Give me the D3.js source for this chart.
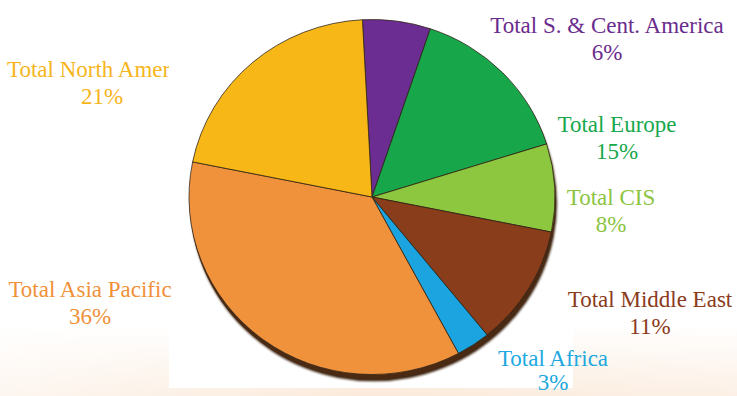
<!DOCTYPE html>
<html><head><meta charset="utf-8">
<script src="https://cdn.jsdelivr.net/npm/d3@7"></script>
<style>html,body{margin:0;padding:0;background:#fff;overflow:hidden}
text{font-family:"Liberation Serif","Times New Roman",Tinos,"DejaVu Serif","Noto Serif",serif}</style>
</head><body>
<script>
const categories = ["Total S. & Cent. America","Total Europe","Total CIS","Total Middle East","Total Africa","Total Asia Pacific","Total North America"];
const values = [6,15,8,11,3,36,21];
const sliceColors = ["#6B2D91","#17A74A","#8DC63F","#8A3D1B","#1BA4DF","#F0913B","#F7B817"];
const labelColors = ["#6A2C8E","#17A84B","#8CC43F","#8B3B1B","#20A8E0","#F0913A","#F7B51B"];
const labelPos = [[607,33],[617,132],[611,205],[650,307],[553,366],[90,297],[102,77]];

const W=737,H=396;
const svg=d3.select("body").append("svg").attr("width",W).attr("height",H);
const defs=svg.append("defs");
const g1=defs.append("linearGradient").attr("id","bg").attr("x1",0).attr("y1",0).attr("x2",0).attr("y2",1);
g1.append("stop").attr("offset","0.82").attr("stop-color","#ffffff");
g1.append("stop").attr("offset","1").attr("stop-color","#FBEADB");
const g2=defs.append("linearGradient").attr("id","bgh").attr("x1",0).attr("y1",0).attr("x2",1).attr("y2",0);
g2.append("stop").attr("offset","0").attr("stop-color","#ffffff").attr("stop-opacity",0.6);
g2.append("stop").attr("offset","0.5").attr("stop-color","#ffffff").attr("stop-opacity",0);
g2.append("stop").attr("offset","1").attr("stop-color","#ffffff").attr("stop-opacity",0.3);
defs.append("filter").attr("id","blur").append("feGaussianBlur").attr("stdDeviation",1.2);

svg.append("rect").attr("width",W).attr("height",H).attr("fill","url(#bg)");
svg.append("rect").attr("width",W).attr("height",H).attr("fill","url(#bgh)");

function drawLabel(i, gap){
  const t=svg.append("text").attr("text-anchor","middle").attr("fill",labelColors[i])
    .attr("font-size",23).attr("x",labelPos[i][0]).attr("y",labelPos[i][1]);
  t.append("tspan").attr("x",labelPos[i][0]).text(categories[i]);
  t.append("tspan").attr("x",labelPos[i][0]).attr("dy",gap||27).text(values[i]+"%");
}
// North America label is partly covered by the plot area
drawLabel(6);
svg.append("rect").attr("x",169).attr("y",0).attr("width",404).attr("height",388).attr("fill","#fff");

const cx=372, cy=197, R=183, sy=0.97;
const pie=d3.pie().sort(null).value(d=>d).startAngle(-3*Math.PI/180).endAngle(-3*Math.PI/180+2*Math.PI);
const arc=d3.arc().innerRadius(0).outerRadius(R);
const gp=svg.append("g").attr("transform",`translate(${cx},${cy}) scale(1,${sy})`);
gp.append("circle").attr("cx",2).attr("cy",7).attr("r",R).attr("fill","#3B2210").attr("filter","url(#blur)");
gp.append("circle").attr("cx",1).attr("cy",5).attr("r",R).attr("fill","#4A2A12");
gp.selectAll("path.s").data(pie(values)).join("path").attr("class","s")
  .attr("d",arc).attr("fill",(d,i)=>sliceColors[i])
  .attr("stroke","#2E2418").attr("stroke-width",1).attr("stroke-opacity",0.8);

for(let i=0;i<6;i++) drawLabel(i, i===4?24:27);
</script>
</body></html>
